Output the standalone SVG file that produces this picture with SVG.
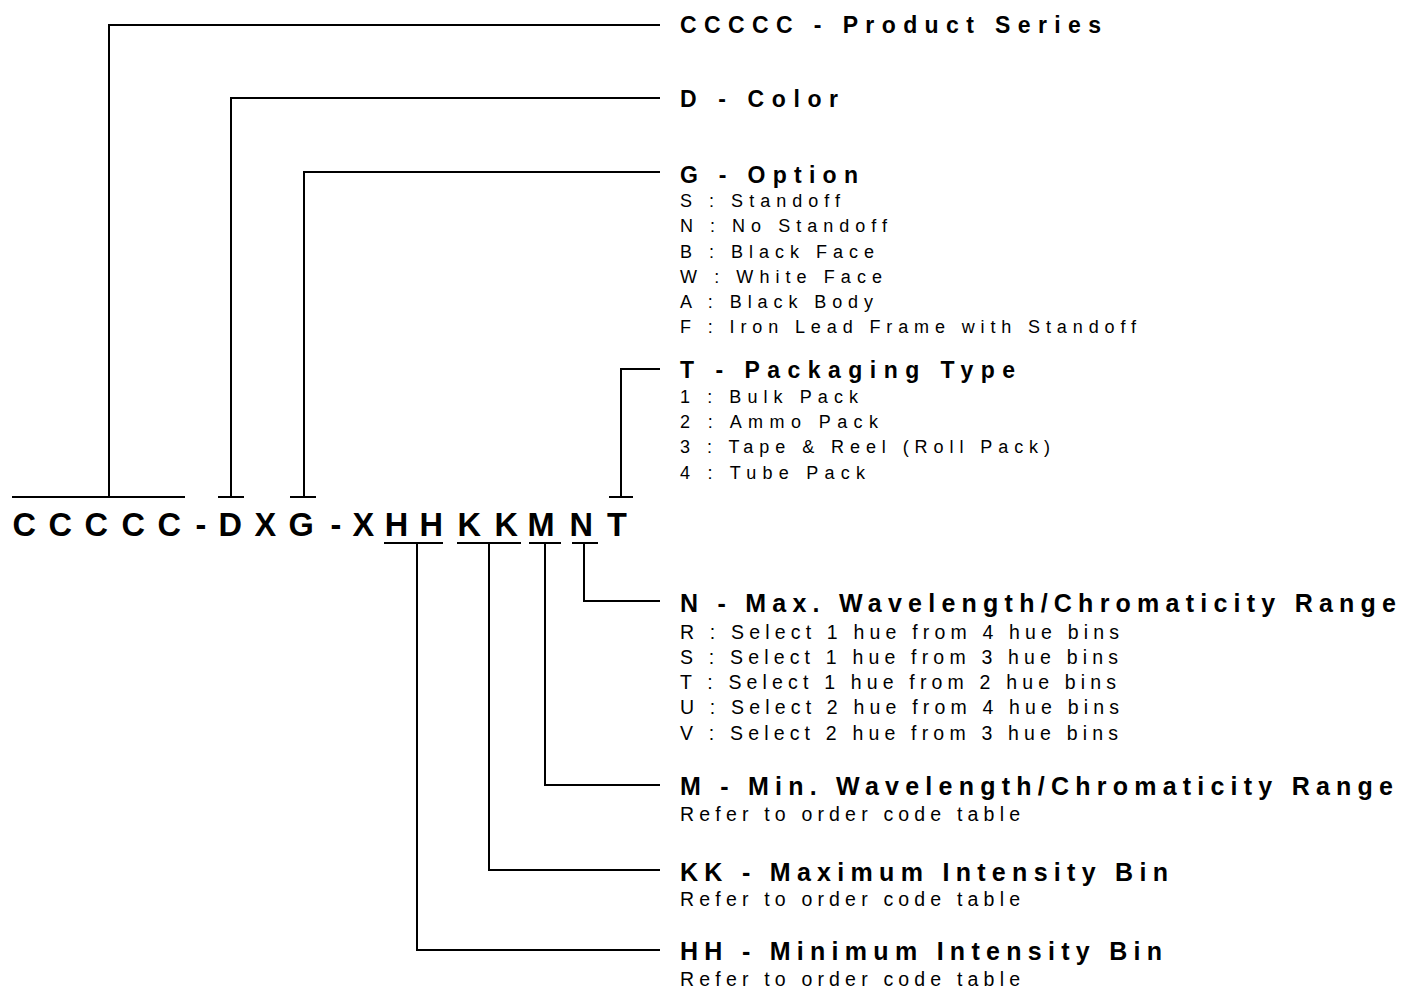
<svg xmlns="http://www.w3.org/2000/svg" width="1401" height="991" viewBox="0 0 1401 991">
<style>
.h{font-family:"Liberation Sans",Arial,sans-serif;font-weight:bold;font-size:23px;fill:#000}
.i{font-family:"Liberation Sans",Arial,sans-serif;font-size:18px;fill:#000}
.hn{font-family:"Liberation Sans Narrow","Arial Narrow","Liberation Sans",sans-serif;font-weight:bold;font-size:25px;fill:#000}
.in{font-family:"Liberation Sans Narrow","Arial Narrow","Liberation Sans",sans-serif;font-size:19.5px;fill:#000}
.code{font-family:"Liberation Sans",Arial,sans-serif;font-weight:bold;font-size:32.5px;fill:#000}
.ln{fill:none;stroke:#000;stroke-width:2}
</style>
<rect width="1401" height="991" fill="#fff"/>
<g id="code">
<text class="code" x="12.5 48.5 84.5 121.5 157.5 195.5 218.5 254.5 288.5 330.5 352.5 384.7 419.5 457.5 494.5 527.5 569.5 607" y="535.5">CCCCC-DXG-XHHKKMNT</text>
</g>
<g id="connectors">
<path class="ln" d="M12 497H185M109 497V25H660"/>
<path class="ln" d="M218 497H244M231 497V98H660"/>
<path class="ln" d="M290 497H316M304 497V172H660"/>
<path class="ln" d="M609 497H633M621 497V369H660"/>
<path class="ln" d="M572 543H598M584 543V601H660"/>
<path class="ln" d="M529 543H561M545 543V785H660"/>
<path class="ln" d="M457 543H521M489 543V870H660"/>
<path class="ln" d="M384 543H443M417 543V950H660"/>
</g>
<g id="series">
<text class="h" x="680" y="32.5" textLength="421" lengthAdjust="spacing">CCCCC - Product Series</text>
</g>
<g id="color">
<text class="h" x="680" y="106.5" textLength="158" lengthAdjust="spacing">D - Color</text>
</g>
<g id="option">
<text class="h" x="680" y="182.5" textLength="178" lengthAdjust="spacing">G - Option</text>
<text class="i" x="680" y="207" textLength="160" lengthAdjust="spacing">S : Standoff</text>
<text class="i" x="680" y="232" textLength="207" lengthAdjust="spacing">N : No Standoff</text>
<text class="i" x="680" y="257.5" textLength="194" lengthAdjust="spacing">B : Black Face</text>
<text class="i" x="680" y="282.5" textLength="202" lengthAdjust="spacing">W : White Face</text>
<text class="i" x="680" y="307.5" textLength="193" lengthAdjust="spacing">A : Black Body</text>
<text class="i" x="680" y="333" textLength="456" lengthAdjust="spacing">F : Iron Lead Frame with Standoff</text>
</g>
<g id="packaging">
<text class="h" x="680" y="377.5" textLength="335" lengthAdjust="spacing">T - Packaging Type</text>
<text class="i" x="680" y="403" textLength="178" lengthAdjust="spacing">1 : Bulk Pack</text>
<text class="i" x="680" y="428" textLength="198" lengthAdjust="spacing">2 : Ammo Pack</text>
<text class="i" x="680" y="453" textLength="370" lengthAdjust="spacing">3 : Tape &amp; Reel (Roll Pack)</text>
<text class="i" x="680" y="479" textLength="185" lengthAdjust="spacing">4 : Tube Pack</text>
</g>
<g id="maxwave">
<text class="hn" x="680" y="612" textLength="716" lengthAdjust="spacing">N - Max. Wavelength/Chromaticity Range</text>
<text class="in" x="680" y="638.5" textLength="439" lengthAdjust="spacing">R : Select 1 hue from 4 hue bins</text>
<text class="in" x="680" y="663.5" textLength="438" lengthAdjust="spacing">S : Select 1 hue from 3 hue bins</text>
<text class="in" x="680" y="688.5" textLength="436" lengthAdjust="spacing">T : Select 1 hue from 2 hue bins</text>
<text class="in" x="680" y="714" textLength="439" lengthAdjust="spacing">U : Select 2 hue from 4 hue bins</text>
<text class="in" x="680" y="739.5" textLength="438" lengthAdjust="spacing">V : Select 2 hue from 3 hue bins</text>
</g>
<g id="minwave">
<text class="hn" x="680" y="795" textLength="713" lengthAdjust="spacing">M - Min. Wavelength/Chromaticity Range</text>
<text class="in" x="680" y="820.5" textLength="340" lengthAdjust="spacing">Refer to order code table</text>
</g>
<g id="maxint">
<text class="hn" x="680" y="881" textLength="488" lengthAdjust="spacing">KK - Maximum Intensity Bin</text>
<text class="in" x="680" y="905.5" textLength="340" lengthAdjust="spacing">Refer to order code table</text>
</g>
<g id="minint">
<text class="hn" x="680" y="960" textLength="482" lengthAdjust="spacing">HH - Minimum Intensity Bin</text>
<text class="in" x="680" y="985.5" textLength="340" lengthAdjust="spacing">Refer to order code table</text>
</g>
</svg>
